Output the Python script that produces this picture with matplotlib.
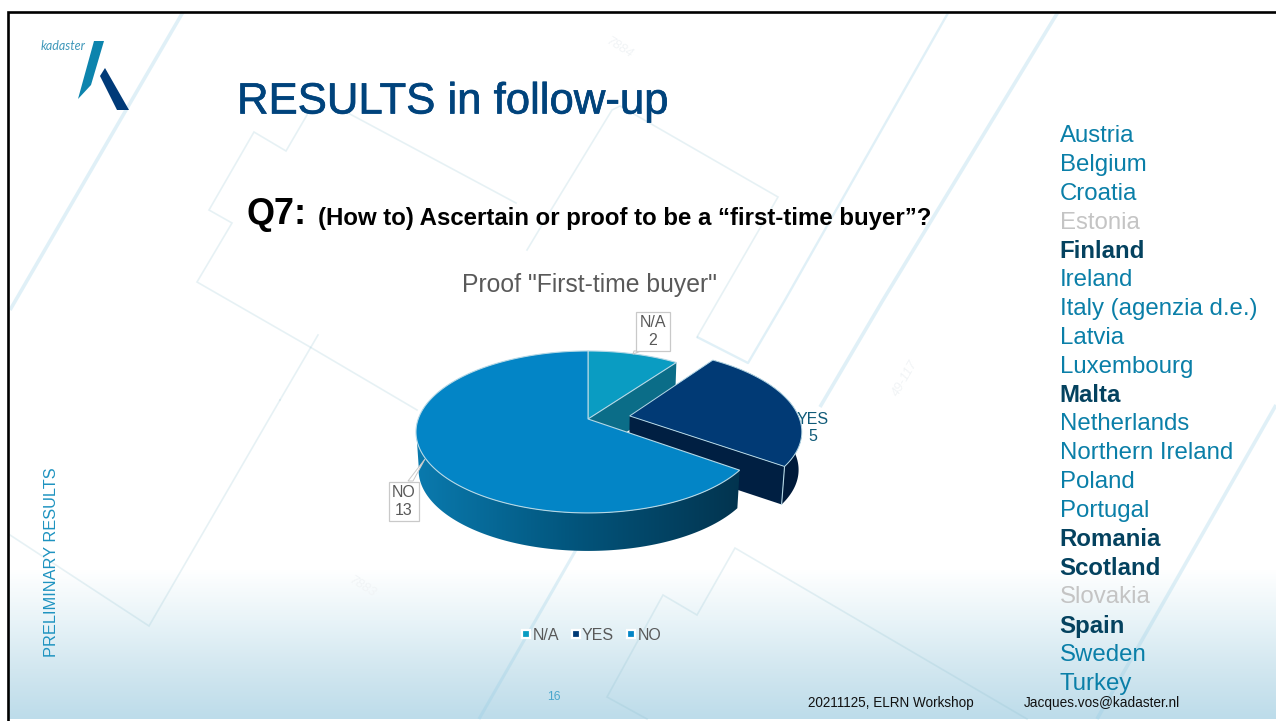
import numpy as np
import matplotlib
matplotlib.use("Agg")
import matplotlib.pyplot as plt
from matplotlib.colors import LinearSegmentedColormap
from matplotlib.lines import Line2D
from matplotlib.patches import Polygon
import matplotlib.patheffects as pe

plt.rcParams['font.family'] = ['Liberation Sans', 'DejaVu Sans']

categories = ["N/A", "YES", "NO"]
values = [2, 5, 13]
explode = [0.0, 0.25, 0.0]
top_colors = ["#0a9cc2", "#013a75", "#0385c6"]

countries = ["Austria", "Belgium", "Croatia", "Estonia", "Finland", "Ireland",
             "Italy (agenzia d.e.)", "Latvia", "Luxembourg", "Malta", "Netherlands",
             "Northern Ireland", "Poland", "Portugal", "Romania", "Scotland",
             "Slovakia", "Spain", "Sweden", "Turkey"]
bold_countries = ["Finland", "Malta", "Romania", "Scotland", "Spain"]
grey_countries = ["Estonia", "Slovakia"]

W, H = 1276, 721
fig = plt.figure(figsize=(W / 100, H / 100), dpi=100, facecolor="white")
ax = fig.add_axes([0, 0, 1, 1])
ax.set_axis_off()

def px(p):
    return p * 0.72

# slide background
cmap = LinearSegmentedColormap.from_list("bg", ["#ffffff", "#e9f4f8", "#d2e7f0", "#bddcea"])
grad = np.linspace(0, 1, 150).reshape(-1, 1)
ax.imshow(grad, cmap=cmap, extent=[9, W, 719, 569], aspect="auto", zorder=0)

# cadastral map lines
thick = [[(183, 12), (97, 160), (10, 310)],
         [(1058, 12), (883, 300), (820, 407)],
         [(948, 13), (785, 300), (748, 363), (697, 337)],
         [(1276, 405), (1097, 719)],
         [(640, 437), (573, 555), (479, 719)]]
thick_w = [2.6, 2.6, 1.7, 2.6, 2.2]
thin = [[(307, 115), (286, 151), (254, 132), (209, 210), (232, 223), (197, 282), (310, 347), (417, 410)],
        [(348, 113), (516, 203)],
        [(527, 250), (551, 210), (612, 110), (620, 106), (778, 197), (697, 337)],
        [(280, 400), (149, 626), (10, 535)],
        [(280, 400), (318, 335)],
        [(1027, 719), (735, 548), (697, 615), (663, 595), (607, 697), (647, 719)]]
for seg, lw in zip(thick, thick_w):
    xs, ys = zip(*seg)
    ax.plot(xs, ys, color="#8fcae3", alpha=0.27, lw=lw, zorder=1, solid_capstyle="butt")
for seg in thin:
    xs, ys = zip(*seg)
    ax.plot(xs, ys, color="#86bccc", alpha=0.2, lw=1.2, zorder=1, solid_joinstyle="miter")
for s, x, y, r in [("7884", 620, 48, -32), ("7883", 363, 587, -32), ("49-117", 905, 378, 60)]:
    ax.text(x, y, s, fontsize=px(13), style="italic", color="#f1f4f6", rotation=r,
            ha="center", va="center", zorder=1)

# frame
ax.plot([8.3, 8.3, W], [721, 11.5, 11.5], color="black", lw=1.9, zorder=2, solid_joinstyle="miter")

# logo
ax.fill([94, 104, 91, 78], [41, 41, 85, 99], color="#0d84ad", lw=0, zorder=2)
ax.fill([105, 129, 117, 100], [68, 110, 110, 76], color="#003a78", lw=0, zorder=2)
ax.text(41, 46, "kadaster", fontsize=px(12.5), style="italic", family="Lato", color="#3f98ba",
        ha="left", va="center", zorder=2)

# slide texts
ax.text(237, 102, "RESULTS in follow-up", fontsize=px(43.7), color="#00437c", ha="left", va="center", zorder=3,
        path_effects=[pe.withStroke(linewidth=0.5, foreground="#00437c")])
ax.text(246, 215, "Q7:", fontsize=px(36), fontweight="bold", color="black", ha="left", va="center", zorder=3)
ax.text(318, 219, "(How to) Ascertain or proof to be a “first-time buyer”?", fontsize=px(23.95),
        fontweight="bold", color="black", ha="left", va="center", zorder=3)
ax.text(589, 285, 'Proof "First-time buyer"', fontsize=px(24.7), color="#595959", ha="center", va="center", zorder=3)
ax.text(51.5, 562.5, "PRELIMINARY RESULTS", fontsize=px(16.4), color="#1e93c0", rotation=90,
        ha="center", va="center", zorder=3)
ax.text(554, 697, "16", fontsize=px(12), color="#4aa6cc", ha="center", va="center", zorder=3)
ax.text(808, 702.5, "20211125, ELRN Workshop", fontsize=px(13.55), color="#111111", ha="left", va="center", zorder=6)
ax.text(1024, 702.5, "Jacques.vos@kadaster.nl", fontsize=px(13.65), color="#111111", ha="left", va="center", zorder=6)

# country list
for i, name in enumerate(countries):
    bold = name in bold_countries
    col = "#04425f" if bold else ("#c4c4c4" if name in grey_countries else "#0a7fa8")
    ax.text(1059.5 if bold else 1060, 136.5 + i * 28.8, name, fontsize=px(24), fontweight="bold" if bold else "normal",
            color=col, ha="left", va="center", zorder=5)

# 3-D pie, projected from the values' angles
CX, CY, AX, AY, K, DEPTH, SHRINK = 588, 419, 169.8, 78.9, 0.16, 38, 0.985

def proj(X, Y):
    w = 1 + K * Y
    return CX + AX * X / w, CY - AY * Y / w

def rim(t0, t1, ex, n=120):
    th = np.radians(np.linspace(t0, t1, n))
    mid = np.radians((t0 + t1) / 2)
    return proj(np.sin(th) + ex * np.sin(mid), np.cos(th) + ex * np.cos(mid))

def lower(x, y):
    return CX + (np.asarray(x) - CX) * SHRINK, np.asarray(y) + DEPTH

cum = np.concatenate([[0], np.cumsum(values)]) / np.sum(values) * 360
spans = [(cum[i], cum[i + 1]) for i in range(len(values))]

def apex(i):
    mid = np.radians(sum(spans[i]) / 2)
    return proj(explode[i] * np.sin(mid), explode[i] * np.cos(mid))

edge = "#b5d8e6"

# YES label sits behind the pulled-out slice
ax.text(813, 428, f"{categories[1]}\n{values[1]}", fontsize=px(16), color="#0f5a78", ha="center", va="center",
        linespacing=1.18, zorder=4)

# N/A slice with its cut face
x, y = rim(*spans[0], explode[0])
ax0, ay0 = apex(0)
lx, ly = lower([ax0, x[-1]], [ay0, y[-1]])
ax.fill([ax0, x[-1], lx[1], lx[0]], [ay0, y[-1], ly[1], ly[0]], color="#0b6d88", lw=0, zorder=4)
ax.fill(np.r_[ax0, x], np.r_[ay0, y], facecolor=top_colors[0], edgecolor=edge, lw=0.8, zorder=4)

# YES slice
x, y = rim(*spans[1], explode[1])
ax1, ay1 = apex(1)
lx, ly = lower(x, y)
ax.fill(np.r_[x, lx[::-1]], np.r_[y, ly[::-1]], facecolor="#001a3a", edgecolor="none", zorder=4.1)
alx, aly = lower([ax1, x[-1]], [ay1, y[-1]])
ax.fill([ax1, x[-1], alx[1], alx[0]], [ay1, y[-1], aly[1], aly[0]], facecolor="#001f42", lw=0, zorder=4.1)
ax.plot([x[-1], alx[1]], [y[-1], aly[1]], color=edge, lw=0.8, zorder=4.15)
ax.fill(np.r_[ax1, x], np.r_[ay1, y], facecolor=top_colors[1], edgecolor=edge, lw=0.7, zorder=4.2)

# NO slice: side wall shaded left to right
x, y = rim(*spans[2], explode[2], n=240)
ax2, ay2 = apex(2)
lx, ly = lower(x, y)
front = y >= 428
side = Polygon(np.c_[np.r_[x[front], lx[front][::-1]], np.r_[y[front], ly[front][::-1]]],
               closed=True, transform=ax.transData, fc="none", ec="none")
ax.add_patch(side)
side_cmap = LinearSegmentedColormap.from_list("side", ["#0a7aae", "#02547b", "#03344f"])
img = ax.imshow(np.linspace(0, 1, 256).reshape(1, -1), cmap=side_cmap, aspect="auto",
                extent=[x.min(), x.max(), 560, 420], zorder=4.3)
img.set_clip_path(side)
ax.fill(np.r_[ax2, x], np.r_[ay2, y], facecolor=top_colors[2], edgecolor=edge, lw=0.8, zorder=4.4)

# boxed data labels with callouts
ax.add_patch(Polygon([(634, 351), (641, 351), (633, 354)], closed=True, fc="white", ec="#c9c9c9", lw=0.8, zorder=4.5))
ax.add_patch(Polygon([(408, 481), (413, 481), (425, 459)], closed=True, fc="white", ec="#c9c9c9", lw=0.7, zorder=4.5))
box = dict(boxstyle="square,pad=0.22", fc="white", ec="#c9c9c9", lw=0.9)
ax.text(653, 331.5, f"{categories[0]}\n{values[0]}", fontsize=px(16), color="#595959", ha="center", va="center",
        linespacing=1.18, bbox=box, zorder=4.6)
ax.text(404, 501.5, f"{categories[2]}\n{values[2]}", fontsize=px(16), color="#595959", ha="center", va="center",
        linespacing=1.18, bbox=box, zorder=4.6)

ax.set_xlim(0, W)
ax.set_ylim(H, 0)

# legend
handles = [Line2D([], [], ls="none", marker="s", ms=5.2, mfc=c, mec="white", mew=1.6) for c in top_colors]
leg = ax.legend(handles, categories, ncol=3, loc="center", frameon=False,
                bbox_to_anchor=(589.5 / W, 1 - 635 / H), fontsize=px(16), labelcolor="#595959",
                handletextpad=-0.1, columnspacing=0.55, handlelength=1.0)
leg.set_zorder(5)

fig.savefig("out.png", dpi=100)
